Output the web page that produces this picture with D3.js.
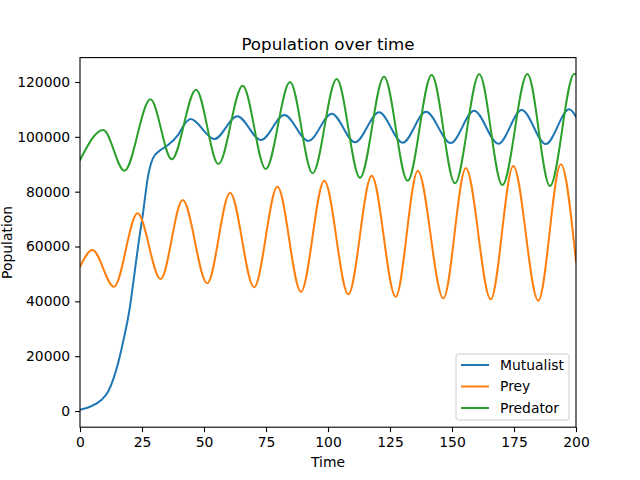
<!DOCTYPE html>
<html>
<head>
<meta charset="utf-8">
<script src="https://cdn.jsdelivr.net/npm/d3@7"></script>
<style>
  body { margin: 0; background: #fff; }
  svg { font-family: "DejaVu Sans", sans-serif; }
</style>
</head>
<body>
<div id="chart"></div>
<script>
// points (time, population) - peaks, troughs and the climb
var mutualistT = [0, 4.6, 8.6, 11.3, 13.3, 15.3, 17.3, 20.0, 21.8, 23.4, 25.4, 27.4, 29.4, 32.1, 35.5, 39.5, 42.9, 44.6,
                  54.2, 63.4, 73.0, 82.4, 92.1, 101.5, 110.9, 120.6, 130.1, 139.5, 149.5, 158.9, 168.7, 178.1, 187.8, 197.3, 200];
var mutualistV = [450, 1820, 4000, 7050, 11300, 17200, 24900, 37200, 49000, 59900, 72100, 85450, 92150, 94930, 97000, 100650, 105500, 106500,
                  99200, 107500, 98830, 107950, 98470, 108430, 97990, 108940, 97850, 109150, 97740, 109520, 97490, 109770, 97370, 110030, 107330];

var preyT = [0, 5.0, 13.7, 23.2, 32.5, 41.4, 51.3, 60.5, 70.2, 79.6, 89.1, 98.5, 108.2, 117.6, 127.3, 136.2, 146.5, 155.6, 165.6, 174.7, 184.8, 193.9, 200];
var preyV = [52630, 58720, 45330, 72100, 48140, 76950, 46570, 79620, 45110, 81800, 43510, 84000, 42560, 85810, 41690, 87530, 41100, 88510, 40740, 89350, 40230, 89970, 54450];

var predatorT = [0, 9.4, 17.9, 28.4, 37.0, 46.8, 55.8, 65.6, 74.9, 84.7, 93.8, 103.5, 112.9, 122.6, 132.1, 141.8, 151.2, 161.0, 170.3, 180.4, 189.5, 199.3, 200];
var predatorV = [91540, 102480, 87640, 113680, 91790, 117180, 90080, 118640, 88260, 119990, 86690, 121080, 85080, 121920, 84000, 122540, 83040, 122790, 82420, 122900, 82060, 122900, 122800];

var seriesNames = ["Mutualist", "Prey", "Predator"];
var colors = ["#1f77b4", "#ff7f0e", "#2ca02c"];
var xTicks = [0, 25, 50, 75, 100, 125, 150, 175, 200];
var yTicks = [0, 20000, 40000, 60000, 80000, 100000, 120000];

var width = 640, height = 480;
var plotL = 80, plotR = 576, plotT = 57.6, plotB = 427.2;

var svg = d3.select("#chart").append("svg")
  .attr("width", width)
  .attr("height", height);

var x = d3.scaleLinear().domain([0, 200]).range([plotL, plotR]);
var y = d3.scaleLinear().domain([-5900, 128900]).range([plotB, plotT]);

function pairs(ts, vs) {
  return ts.map(function(t, i) { return [t, vs[i]]; });
}
var series = [pairs(mutualistT, mutualistV), pairs(preyT, preyV), pairs(predatorT, predatorV)];

svg.append("clipPath").attr("id", "clip")
  .append("rect").attr("x", plotL).attr("y", plotT).attr("width", plotR - plotL).attr("height", plotB - plotT);

var line = d3.line()
  .x(function(d) { return x(d[0]); })
  .y(function(d) { return y(d[1]); })
  .curve(d3.curveMonotoneX);

svg.append("g").attr("clip-path", "url(#clip)")
  .selectAll("path")
  .data(series)
  .enter()
  .append("path")
    .attr("d", line)
    .attr("fill", "none")
    .attr("stroke", function(d, i) { return colors[i]; })
    .attr("stroke-width", 2)
    .attr("stroke-linejoin", "round")
    .attr("stroke-linecap", "square");

// axes
var xAxis = svg.append("g")
  .attr("transform", "translate(0," + plotB + ")")
  .call(d3.axisBottom(x).tickValues(xTicks).tickSize(4.9).tickPadding(4.9).tickFormat(d3.format("d")));
var yAxis = svg.append("g")
  .attr("transform", "translate(" + plotL + ",0)")
  .call(d3.axisLeft(y).tickValues(yTicks).tickSize(4.9).tickPadding(4.9).tickFormat(d3.format("d")));

[xAxis, yAxis].forEach(function(a) {
  a.select(".domain").remove();
  a.selectAll("line").attr("stroke", "#000").attr("stroke-width", 1.1);
  a.selectAll("text").attr("fill", "#000").style("font-size", "13.9px").style("font-family", "DejaVu Sans, sans-serif");
});

// frame
svg.append("rect")
  .attr("x", plotL).attr("y", plotT)
  .attr("width", plotR - plotL).attr("height", plotB - plotT)
  .attr("fill", "none").attr("stroke", "#000").attr("stroke-width", 1.1);

// title & labels
svg.append("text")
  .attr("x", (plotL + plotR) / 2).attr("y", plotT - 8)
  .attr("text-anchor", "middle")
  .style("font-size", "16.7px")
  .text("Population over time");

svg.append("text")
  .attr("x", (plotL + plotR) / 2).attr("y", 467)
  .attr("text-anchor", "middle")
  .style("font-size", "13.9px")
  .text("Time");

svg.append("text")
  .attr("transform", "translate(7," + ((plotT + plotB) / 2) + ") rotate(-90)")
  .attr("text-anchor", "middle")
  .style("font-size", "13.9px")
  .attr("dy", "0.35em")
  .text("Population");

// legend, lower right
var lg = svg.append("g");
lg.append("rect")
  .attr("x", 456).attr("y", 354)
  .attr("width", 113).attr("height", 66)
  .attr("rx", 2.5)
  .attr("fill", "#fff").attr("fill-opacity", 0.8)
  .attr("stroke", "#cccccc").attr("stroke-width", 1);

var item = lg.selectAll("g.item")
  .data(seriesNames)
  .enter()
  .append("g")
    .attr("transform", function(d, i) { return "translate(0," + (365 + i * 21.5) + ")"; });

item.append("line")
  .attr("x1", 461).attr("x2", 489)
  .attr("stroke", function(d, i) { return colors[i]; })
  .attr("stroke-width", 2);

item.append("text")
  .attr("x", 500).attr("dy", "0.35em")
  .style("font-size", "13.9px")
  .text(function(d) { return d; });
</script>
</body>
</html>
